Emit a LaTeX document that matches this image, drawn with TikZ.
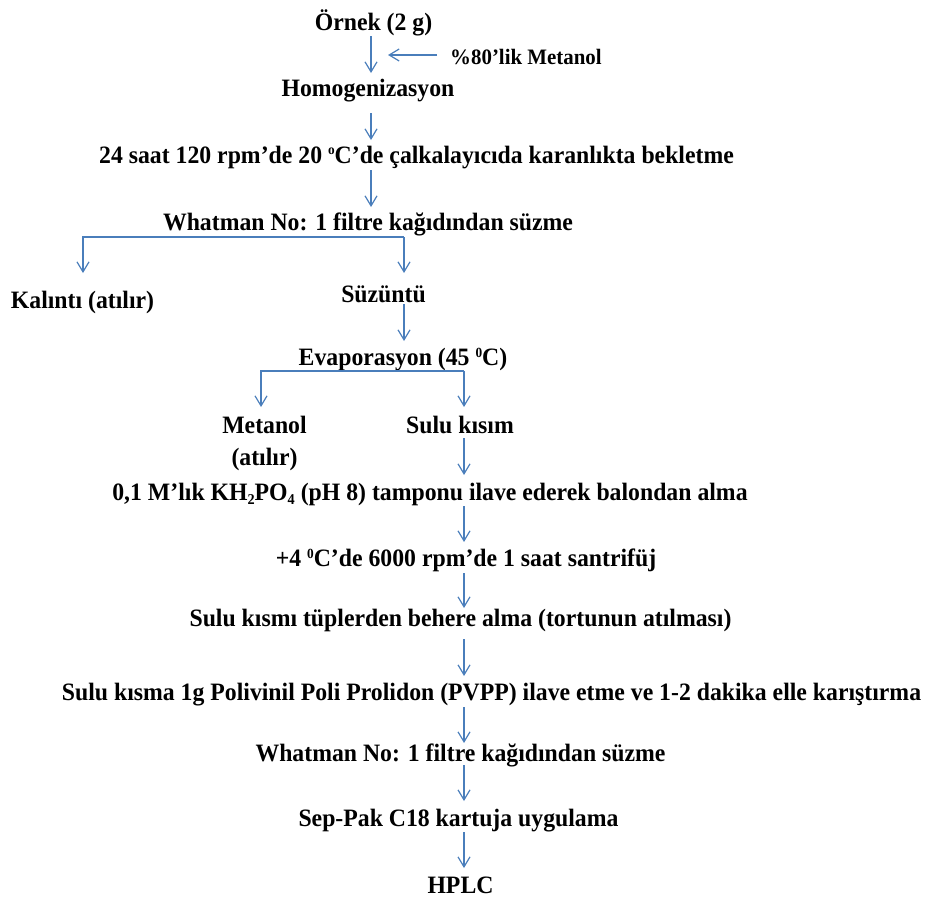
\documentclass[tikz,border=0pt]{standalone}
\usepackage{fontspec}
\setmainfont{Liberation Serif}[FakeStretch=0.95]
\usetikzlibrary{arrows.meta}
\definecolor{flowblue}{HTML}{4A7EBB}
\newcommand\supdeg[2]{\raisebox{#1}{\fontsize{14}{14}\selectfont #2}}
\newcommand\subnum[1]{\raisebox{-4pt}{\fontsize{15}{15}\selectfont #1}}
\begin{document}
\begin{tikzpicture}[x=1pt,y=-1pt,
  lblbase/.style={inner sep=0pt, font=\fontsize{25}{32}\selectfont\bfseries, align=center},
  lbl/.style={lblbase, text height=18.75pt, text depth=2.5pt},
  arr/.style={draw=flowblue, line width=1.2pt, -{Straight Barb[length=10pt,width=12pt,line width=1.2pt]}}]
\useasboundingbox (0,0) rectangle (933,902);
% columns
\coordinate (colA) at (371,0);
\coordinate (colB) at (404,0);
\coordinate (colC) at (464,0);
\coordinate (colL) at (83,0);
\coordinate (colM) at (261,0);
\coordinate (mix) at (388,55);
% nodes
\node[lbl] (ornek) at (373.5,22) {Örnek (2 g)};
\node[lblbase, font=\fontsize{22}{26}\selectfont\bfseries, text height=16.5pt, text depth=2.2pt, anchor=west] (m80) at (450,57) {\%80’lik Metanol};
\node[lbl] (homo) at (368,88) {Homogenizasyon};
\node[lbl] (saat) at (416.5,155) {24 saat 120 rpm’de 20 \supdeg{9pt}{o}C’de çalkalayıcıda karanlıkta bekletme};
\node[lbl] (what1) at (368,222) {Whatman No: 1 filtre kağıdından süzme};
\node[lbl] (kalinti) at (82.5,300) {Kalıntı (atılır)};
\node[lbl] (suzuntu) at (383.5,294) {Süzüntü};
\node[lbl] (evap) at (403,357) {Evaporasyon (45 \supdeg{8pt}{0}C)};
\node[lblbase] (metA) at (264.5,443) {Metanol\\(atılır)};
\node[lbl] (sulu) at (460,425) {Sulu kısım};
\node[lbl] (kh) at (430,492) {0,1 M’lık KH\subnum{2}PO\subnum{4} (pH 8) tamponu ilave ederek balondan alma};
\node[lbl] (santr) at (466,558) {+4 \supdeg{8pt}{0}C’de 6000 rpm’de 1 saat santrifüj};
\node[lbl] (tupler) at (460.5,618) {Sulu kısmı tüplerden behere alma (tortunun atılması)};
\node[lbl] (pvpp) at (491.5,692) {Sulu kısma 1g Polivinil Poli Prolidon (PVPP) ilave etme ve 1-2 dakika elle karıştırma};
\node[lbl] (what2) at (460.5,753) {Whatman No: 1 filtre kağıdından süzme};
\node[lbl] (sep) at (458.5,818) {Sep-Pak C18 kartuja uygulama};
\node[lbl] (hplc) at (460.5,885) {HPLC};
% connectors
\draw[arr] ([yshift=-14pt]ornek.center -| colA) -- ([yshift=15pt]homo.center -| colA);
\draw[arr] ([xshift=-13pt,yshift=2pt]m80.west) -- (mix);
\draw[arr] ([yshift=-25pt]homo.center -| colA) -- ([yshift=15pt]saat.center -| colA);
\draw[arr] ([yshift=-15pt]saat.center -| colA) -- ([yshift=15pt]what1.center -| colA);
\draw[arr] ([yshift=-15pt]what1.center -| colB) -| ([yshift=27pt]kalinti.center -| colL);
\draw[arr] ([yshift=-15pt]what1.center -| colB) -- ([yshift=21pt]suzuntu.center -| colB);
\draw[arr] ([yshift=-10pt]suzuntu.center -| colB) -- ([yshift=16pt]evap.center -| colB);
\draw[arr] ([yshift=-14pt]evap.center -| colC) -| ([yshift=36pt]metA.center -| colM);
\draw[arr] ([yshift=-14pt]evap.center -| colC) -- ([yshift=18pt]sulu.center -| colC);
\draw[arr] ([yshift=-13pt]sulu.center -| colC) -- ([yshift=17pt]kh.center -| colC);
\draw[arr] ([yshift=-14pt]kh.center -| colC) -- ([yshift=16pt]santr.center -| colC);
\draw[arr] ([yshift=-15pt]santr.center -| colC) -- ([yshift=10pt]tupler.center -| colC);
\draw[arr] ([yshift=-21pt]tupler.center -| colC) -- ([yshift=16pt]pvpp.center -| colC);
\draw[arr] ([yshift=-15pt]pvpp.center -| colC) -- ([yshift=10pt]what2.center -| colC);
\draw[arr] ([yshift=-12pt]what2.center -| colC) -- ([yshift=17pt]sep.center -| colC);
\draw[arr] ([yshift=-14pt]sep.center -| colC) -- ([yshift=17pt]hplc.center -| colC);
\end{tikzpicture}
\end{document}
